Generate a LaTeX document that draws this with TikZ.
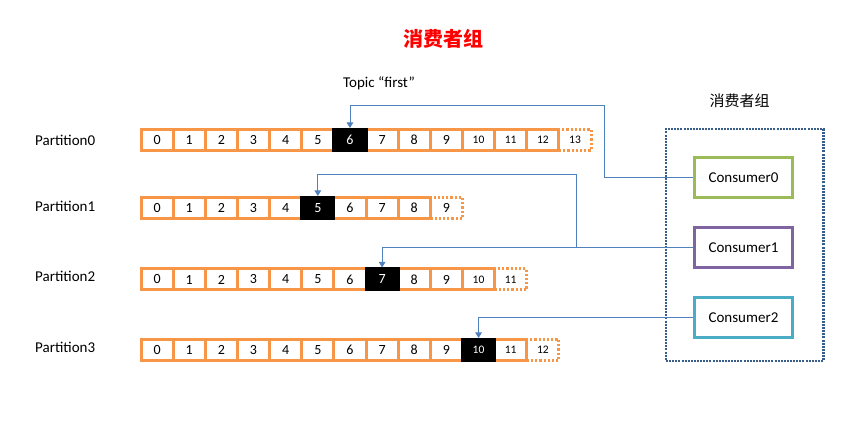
\documentclass[tikz,border=0pt]{standalone}
\usepackage{fontspec}
\setmainfont{Carlito}
\newfontfamily\cjk{Noto Sans CJK SC}
\usetikzlibrary{arrows.meta}
\definecolor{cellor}{HTML}{F79646}
\definecolor{cgreen}{HTML}{9BBB59}
\definecolor{cpurple}{HTML}{8064A2}
\definecolor{cteal}{HTML}{4BACC6}
\definecolor{connblue}{HTML}{4F81BD}
\definecolor{grpblue}{HTML}{385D8A}
\newcommand\numtxt[1]{\ifnum#1>9 {\fontsize{11.5}{12}\selectfont#1}\else#1\fi}
\tikzset{
  base/.style={font=\fontsize{15}{18}\selectfont, inner sep=0pt},
  cell/.style={font=\fontsize{14}{16}\selectfont, inner sep=0pt, draw=cellor, line width=3pt, minimum width=32.15pt, minimum height=21pt},
  dcell/.style={cell, dash pattern=on 2.2pt off 2pt},
  bcell/.style={cell, draw=black, fill=black, text=white},
  plabel/.style={base, anchor=west},
  consumer/.style={base, draw=#1, line width=3pt, minimum width=98pt, minimum height=40pt},
  group/.style={draw=grpblue, line width=2.4pt, dash pattern=on 2pt off 1.1pt, minimum width=157.5pt, minimum height=231.5pt},
  conn/.style={draw=connblue, line width=0.9pt, -{Triangle[width=6.5pt,length=5.5pt]}},
}
\begin{document}
\begin{tikzpicture}[x=1pt,y=-1pt]
\useasboundingbox (0,0) rectangle (863,435);
% titles
\node[font=\cjk\bfseries\fontsize{20}{24}\selectfont, text=red] (title) at (443.5,39) {消费者组};
\node[base] (topic) at (379,83) {Topic “first”};
\node[font=\cjk\fontsize{15}{18}\selectfont] (glabel) at (739.5,101) {消费者组};
% group box
\node[group] (grp) at (744.8,245) {};
% partition labels
\node[plabel] (l0) at (35,140) {Partition0};
\node[plabel] (l1) at (35,206) {Partition1};
\node[plabel] (l2) at (35,276.5) {Partition2};
\node[plabel] (l3) at (35,347) {Partition3};
% rows
\def\xs{141}\def\pw{32.15}
% row 0
\foreach \i in {0,...,12}{\node[cell] (p0c\i) at ({\xs+\pw*(\i+0.5)},140) {\numtxt{\i}};}
\node[dcell] (p0c13) at ({\xs+\pw*13.5},140) {\numtxt{13}};
\node[bcell] (p0k) at (p0c6) {6};
% row 1
\foreach \i in {0,...,8}{\node[cell] (p1c\i) at ({\xs+\pw*(\i+0.5)},208) {\numtxt{\i}};}
\node[dcell] (p1c9) at ({\xs+\pw*9.5},208) {9};
\node[bcell] (p1k) at (p1c5) {5};
% row 2
\foreach \i in {0,...,10}{\node[cell] (p2c\i) at ({\xs+\pw*(\i+0.5)},279.5) {\numtxt{\i}};}
\node[dcell] (p2c11) at ({\xs+\pw*11.5},279.5) {\numtxt{11}};
\node[bcell] (p2k) at (p2c7) {7};
% row 3
\foreach \i in {0,...,11}{\node[cell] (p3c\i) at ({\xs+\pw*(\i+0.5)},350) {\numtxt{\i}};}
\node[dcell] (p3c12) at ({\xs+\pw*12.5},350) {\numtxt{12}};
\node[bcell] (p3k) at (p3c10) {\numtxt{10}};
% consumers
\node[consumer=cgreen] (c0) at (743.5,177.5) {Consumer0};
\node[consumer=cpurple] (c1) at (743.5,247.5) {Consumer1};
\node[consumer=cteal] (c2) at (743.5,317.3) {Consumer2};
% connectors
\coordinate (b0) at (604.3,105);
\coordinate (b1) at (576.7,174.3);
\draw[conn] (c0.west) -| (b0) -| (p0k.north);
\draw[conn] (c1.west) -| (b1) -| (p1k.north);
\draw[conn] (c1.west) -| (p2k.north);
\draw[conn] (c2.west) -| (p3k.north);
\end{tikzpicture}
\end{document}
